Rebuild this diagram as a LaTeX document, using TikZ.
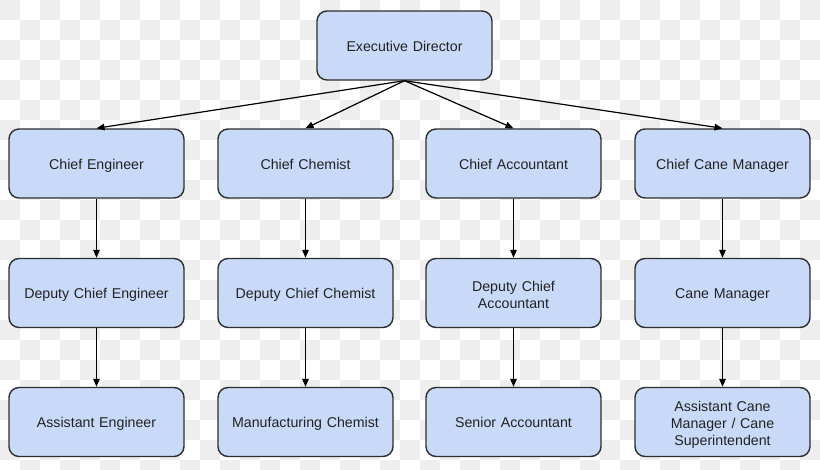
\documentclass[tikz,border=0pt]{standalone}
\usepackage{fontspec}
\setmainfont{Liberation Sans}
\usetikzlibrary{arrows.meta}
\definecolor{boxfill}{HTML}{C9DAF8}
\definecolor{boxline}{HTML}{2E2E2E}
\definecolor{checker}{HTML}{EEEEEE}
\definecolor{txt}{HTML}{222222}
\tikzset{
  orgbox/.style={draw=boxline, line width=1.4pt, fill=boxfill, rounded corners=10pt,
    minimum width=175pt, minimum height=69pt, inner sep=0pt,
    align=center, text width=160pt, text=txt,
    text height=11.8pt, text depth=0pt,
    font=\fontsize{14.2pt}{17pt}\selectfont},
  multi/.style={text height=#1, text depth={}},
  link/.style={draw=black, line width=1.2pt, -{Triangle[length=8pt,width=6.5pt]}}
}
\begin{document}
\begin{tikzpicture}[x=1pt,y=-1pt]
\useasboundingbox (0,0) rectangle (820,469);
\fill[white] (0,0) rectangle (820,469);
\foreach \i in {0,...,40}{
  \foreach \j in {0,...,23}{
    \pgfmathparse{int(mod(\i+\j,2))}
    \ifnum\pgfmathresult=0
      \fill[checker] (\i*20,\j*20) rectangle ++(20,20);
    \fi
  }
}
\node[orgbox] (ed) at (404.5,45.5) {Executive Director};
\node[orgbox] (ce) at (96.5,163.5) {Chief Engineer};
\node[orgbox] (cc) at (305.5,163.5) {Chief Chemist};
\node[orgbox] (ca) at (513.5,163.5) {Chief Accountant};
\node[orgbox] (cm) at (722.5,163.5) {Chief Cane Manager};
\node[orgbox] (dce) at (96.5,293) {Deputy Chief Engineer};
\node[orgbox] (dcc) at (305.5,293) {Deputy Chief Chemist};
\node[orgbox,multi=13.5pt] (dca) at (513.5,293) {Deputy Chief\\Accountant};
\node[orgbox] (cnm) at (722.5,293) {Cane Manager};
\node[orgbox] (ae) at (96.5,422) {Assistant Engineer};
\node[orgbox] (mc) at (305.5,422) {Manufacturing Chemist};
\node[orgbox] (sa) at (513.5,422) {Senior Accountant};
\node[orgbox,multi=16pt,text width=120pt] (acm) at (722.5,422) {Assistant Cane\\Manager / Cane\\Superintendent};
\foreach \t in {ce,cc,ca,cm}{ \draw[link] (ed.south) -- (\t.north); }
\draw[link] (ce) -- (dce);
\draw[link] (cc) -- (dcc);
\draw[link] (ca) -- (dca);
\draw[link] (cm) -- (cnm);
\draw[link] (dce) -- (ae);
\draw[link] (dcc) -- (mc);
\draw[link] (dca) -- (sa);
\draw[link] (cnm) -- (acm);
\end{tikzpicture}
\end{document}
